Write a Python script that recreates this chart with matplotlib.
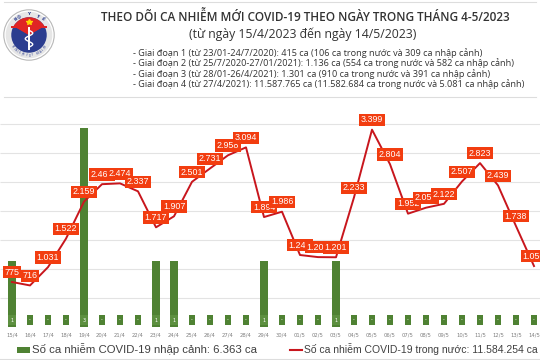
import matplotlib.pyplot as plt
import matplotlib.patches as mpatches
from matplotlib.lines import Line2D
from matplotlib.transforms import blended_transform_factory
import numpy as np

# data
dates = ['15/4', '16/4', '17/4', '18/4', '19/4', '20/4', '21/4', '22/4', '23/4', '24/4',
         '25/4', '26/4', '27/4', '28/4', '29/4', '30/4', '01/5', '02/5', '03/5', '04/5',
         '05/5', '06/5', '07/5', '08/5', '09/5', '10/5', '11/5', '12/5', '13/5', '14/5']
domestic = [775, 716, 1031, 1522, 2159, 2460, 2474, 2337, 1717, 1907,
            2501, 2731, 2958, 3094, 1894, 1986, 1240, 1204, 1201, 2233,
            3399, 2804, 1952, 2055, 2122, 2507, 2823, 2439, 1738, 1050]
imported = [1, 0, 0, 0, 3, 0, 0, 0, 1, 1,
            0, 0, 0, 0, 1, 0, 0, 0, 1, 0,
            0, 0, 0, 0, 0, 0, 0, 0, 0, 0]
grid_vals = [500, 1000, 1500, 2000, 2500, 3000, 3500]

title = 'THEO DÕI CA NHIỄM MỚI COVID-19 THEO NGÀY TRONG THÁNG 4-5/2023'
subtitle = '(từ ngày 15/4/2023 đến ngày 14/5/2023)'
phases = [
    '- Giai đoạn 1 (từ 23/01-24/7/2020): 415 ca (106 ca trong nước và 309 ca nhập cảnh)',
    '- Giai đoạn 2 (từ 25/7/2020-27/01/2021): 1.136 ca (554 ca trong nước và 582 ca nhập cảnh)',
    '- Giai đoạn 3 (từ 28/01-26/4/2021): 1.301 ca (910 ca trong nước và 391 ca nhập cảnh)',
    '- Giai đoạn 4 (từ 27/4/2021): 11.587.765 ca (11.582.684 ca trong nước và 5.081 ca nhập cảnh)',
]
legend_bar = 'Số ca nhiễm COVID-19 nhập cảnh: 6.363 ca'
legend_line = 'Số ca nhiễm COVID-19 trong nước: 11.584.254 ca'

BAR_GREEN = '#4f8233'
LINE_RED = '#c8161d'
LABEL_RED = '#f23d10'


def fmt(v):
    return f'{v:,}'.replace(',', '.')


W, H = 540, 360
fig = plt.figure(figsize=(5.4, 3.6), dpi=100)
fig.patch.set_facecolor('white')

# ---- header ----
hdr_font = ['Open Sans', 'DejaVu Sans']
fig.text(305 / W, 1 - 17 / H, title, ha='center', va='center', fontsize=8.5,
         fontweight='semibold', color='#333333', family=hdr_font)
fig.text(303 / W, 1 - 34 / H, subtitle, ha='center', va='center', fontsize=8.8,
         color='#333333', family=hdr_font)
for i, s in enumerate(phases):
    fig.text(133 / W, 1 - (52.7 + 10.6 * i) / H, s, ha='left', va='center',
             fontsize=6.55, color='#333333', family=hdr_font)
for yy in (1.5, 97):
    fig.add_artist(Line2D([4 / W, 536 / W], [1 - yy / H] * 2, color='#dddddd', lw=0.8))

# ---- logo ----
lax = fig.add_axes([1 / W, 1 - 65 / H, 56 / W, 60 / H])
lax.set_xlim(-30, 30)
lax.set_ylim(-30, 30)
lax.set_aspect('equal')
lax.axis('off')
lax.add_patch(mpatches.Circle((0, 0), 27, fc='white', ec='#b8b8b8', lw=0.8))
lax.add_patch(mpatches.Circle((0, 0), 25, fc='#e6e6e6', ec='none'))
lax.add_patch(mpatches.Circle((0, 0), 19, fc='#2b3d8f', ec='none'))
lax.add_patch(mpatches.Wedge((0, 0), 19, 30, 150, fc='#e02424', ec='none'))
lax.add_patch(mpatches.Polygon([[-16.45, 9.5], [16.45, 9.5], [0, 0]], closed=True, fc='#e02424', ec='none'))
lax.add_patch(mpatches.Rectangle((-19, 8), 38, 1.6, fc='#e02424', ec='none'))
lax.plot([0], [14], marker='*', color='#ffd400', ms=4)
lax.plot([0, 0], [-15, 7], color='white', lw=1.4)
tt = np.linspace(0, 1, 40)
lax.plot(4 * np.sin(tt * 3 * np.pi), 5 - 18 * tt, color='white', lw=1.0)
for ch, ang in zip('BỘ Y TẾ', np.linspace(130, 50, 7)):
    a = np.deg2rad(ang)
    lax.text(22 * np.cos(a), 22 * np.sin(a), ch, ha='center', va='center', fontsize=3.2,
             color='#2b3d8f', rotation=ang - 90, fontweight='bold')
for ch, ang in zip('MINISTRY OF HEALTH', np.linspace(215, 325, 18)):
    a = np.deg2rad(ang)
    lax.text(22 * np.cos(a), 22 * np.sin(a), ch, ha='center', va='center', fontsize=1.9,
             color='#2b3d8f', rotation=ang + 90)

# ---- chart ----
x = np.arange(len(dates))
ax = fig.add_axes([0, 33 / H, 1, 209 / H])
ax2 = ax.twinx()
ax.set_xlim(-12 / 18, (W - 12) / 18)
ax.set_ylim(0, 3.15)
ax2.set_ylim(0, 3600)

ax.hlines(grid_vals, 0, 1, transform=blended_transform_factory(ax.transAxes, ax2.transData),
          color='#e3e3e3', lw=0.8, zorder=0)
ax.bar(x, imported, width=0.45, color=BAR_GREEN, zorder=2)
for xi, v in zip(x, imported):
    ax.text(xi, 0.105, str(v) if v else '-', ha='center', va='center', fontsize=3.5,
            color='white', zorder=3,
            bbox=dict(boxstyle='square,pad=0.45', fc='#5d9040' if v else BAR_GREEN, ec='none'))

ax2.plot(x, domestic, color=LINE_RED, lw=1.4, zorder=3)
for xi, v in zip(x, domestic):
    ax2.annotate(fmt(v), (xi, v), xytext=(0, 7), textcoords='offset points',
                 ha='center', va='center', fontsize=6.4, color='white', zorder=4,
                 family=['Liberation Sans', 'DejaVu Sans'],
                 bbox=dict(boxstyle='square,pad=0.18', fc=LABEL_RED, ec='none'))

ax.set_xticks(x)
ax.set_xticklabels(dates, fontsize=3.8, color='#808080')
ax.tick_params(axis='x', length=0, pad=4)
ax.set_yticks([])
ax2.set_yticks([])
for a in (ax, ax2):
    for sp in a.spines.values():
        sp.set_visible(False)

# ---- legend ----
fig.add_artist(mpatches.Rectangle((17 / W, 1 - 353 / H), 13 / W, 6 / H, fc=BAR_GREEN, ec='none'))
fig.text(32 / W, 1 - 349 / H, legend_bar, ha='left', va='center', fontsize=8.2,
         color='#404040', family=['Liberation Sans', 'DejaVu Sans'])
fig.add_artist(Line2D([290 / W, 302 / W], [1 - 349.5 / H] * 2, color=LINE_RED, lw=1.5))
fig.text(304 / W, 1 - 349 / H, legend_line, ha='left', va='center', fontsize=7.5,
         color='#404040', family=['Liberation Sans', 'DejaVu Sans'])
fig.add_artist(Line2D([0, 1], [1 - 359 / H] * 2, color='#dddddd', lw=0.8))

fig.savefig('out.png', dpi=100, facecolor='white')
